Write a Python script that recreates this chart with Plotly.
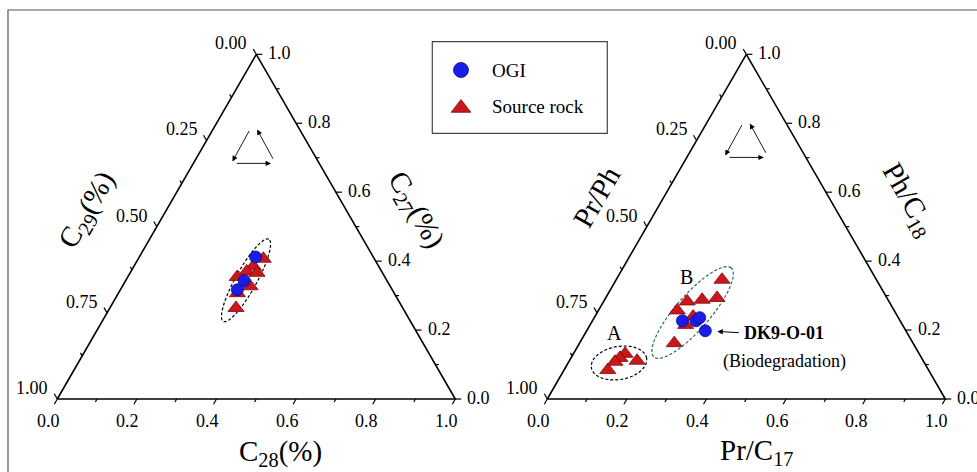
import math
import plotly.graph_objects as go

FONT = "Liberation Serif"
H = math.sqrt(3) / 2          # height of the unit triangle
PX = 398.0                    # pixels per unit on both axes
W, HT = 977, 472              # canvas size
X0_PX, Y0_PX = 57.3, 399.0    # pixel position of the left panel origin

# ---------------- data (ternary fractions) ----------------
# Sterane panel: C27 = top vertex (right axis), C28 = bottom axis, C29 = left axis
ster_ogi_c27 = [0.412, 0.343, 0.317]
ster_ogi_c28 = [0.292, 0.298, 0.294]
ster_ogi_c29 = [0.296, 0.359, 0.389]

ster_src_c27 = [0.407, 0.385, 0.370, 0.366, 0.354, 0.327, 0.307, 0.264]
ster_src_c28 = [0.314, 0.300, 0.291, 0.319, 0.275, 0.321, 0.299, 0.317]
ster_src_c29 = [0.279, 0.315, 0.339, 0.315, 0.371, 0.352, 0.394, 0.419]

# Isoprenoid panel: Ph/C18 = top vertex (right axis), Pr/C17 = bottom axis, Pr/Ph = left axis
iso_ogi_phc18 = [0.227, 0.227, 0.236, 0.198]
iso_ogi_prc17 = [0.226, 0.260, 0.265, 0.298]
iso_ogi_prph = [0.547, 0.513, 0.499, 0.504]

iso_src_phc18 = [0.346, 0.283, 0.288, 0.293, 0.257, 0.239, 0.215, 0.162,
                 0.131, 0.119, 0.108, 0.084, 0.111]
iso_src_prc17 = [0.266, 0.210, 0.245, 0.280, 0.198, 0.247, 0.240, 0.238,
                 0.130, 0.123, 0.116, 0.110, 0.170]
iso_src_prph = [0.388, 0.507, 0.467, 0.427, 0.545, 0.514, 0.545, 0.600,
                0.739, 0.758, 0.776, 0.806, 0.719]

bottom_ticks = [0.0, 0.2, 0.4, 0.6, 0.8, 1.0]
right_ticks = [0.0, 0.2, 0.4, 0.6, 0.8, 1.0]
left_ticks = [0.0, 0.25, 0.5, 0.75, 1.0]
bottom_labels = ["0.0", "0.2", "0.4", "0.6", "0.8", "1.0"]
right_labels = ["0.0", "0.2", "0.4", "0.6", "0.8", "1.0"]
left_labels = ["0.00", "0.25", "0.50", "0.75", "1.00"]

# ---------------- styling ----------------
RED = "#c9171c"
RED_EDGE = "#7d0a0a"
BLUE = "#1c1ce8"
BLUE_EDGE = "#0a0a80"
GREEN = "#2f6a4c"

panels = [
    dict(ox=0.0, top="C<sub>27</sub>(%)", bottom="C<sub>28</sub>(%)", left="C<sub>29</sub>(%)",
         ogi=(ster_ogi_c27, ster_ogi_c28), src=(ster_src_c27, ster_src_c28),
         title_pos=dict(bottom=(0.562, -0.136), left=(0.077, 0.475), right=(0.899, 0.475)),
         glyph=(0.490, 0.637)),
    dict(ox=490.0 / PX, top="Ph/C<sub>18</sub>", bottom="Pr/C<sub>17</sub>", left="Pr/Ph",
         ogi=(iso_ogi_phc18, iso_ogi_prc17), src=(iso_src_phc18, iso_src_prc17),
         title_pos=dict(bottom=(0.526, -0.133), left=(0.123, 0.508), right=(0.907, 0.500)),
         glyph=(0.497, 0.652)),
]


def tern_xy(a_list, b_list, ox):
    """Top-vertex fraction a and bottom-axis fraction b -> cartesian (x, y)."""
    xs = [ox + b + a / 2 for a, b in zip(a_list, b_list)]
    ys = [a * H for a in a_list]
    return xs, ys


def px2data(px, py):
    return (px - X0_PX) / PX, (Y0_PX - py) / PX


fig = go.Figure()
annotations = []
shapes = []

MAJOR = 6.0 / PX
MINOR = 3.5 / PX
TICK_FONT = dict(family=FONT, size=18, color="black")
TITLE_FONT = dict(family=FONT, size=29, color="black")


def ellipse_path(cx, cy, a, b, ang_deg, n=90):
    t = math.radians(ang_deg)
    pts = []
    for i in range(n + 1):
        th = 2 * math.pi * i / n
        u, v = a * math.cos(th), b * math.sin(th)
        pts.append((cx + u * math.cos(t) - v * math.sin(t),
                    cy + u * math.sin(t) + v * math.cos(t)))
    return "M " + " L ".join(f"{x:.5f},{y:.5f}" for x, y in pts) + " Z"


for p in panels:
    ox = p["ox"]
    # frame of the triangle
    fig.add_trace(go.Scatter(x=[ox, ox + 1, ox + 0.5, ox], y=[0, 0, H, 0], mode="lines",
                             line=dict(color="black", width=1.6), hoverinfo="skip",
                             showlegend=False))
    tx, ty = [], []
    # bottom axis: ticks run down-left
    for i in range(11):
        t = i / 10
        L = MAJOR if i % 2 == 0 else MINOR
        x, y = ox + t, 0.0
        tx += [x, x - 0.5 * L, None]
        ty += [y, y - H * L, None]
    # right axis: ticks run to the right
    for i in range(11):
        t = i / 10
        L = MAJOR if i % 2 == 0 else MINOR
        x, y = ox + 1 - t / 2, t * H
        tx += [x, x + L, None]
        ty += [y, y, None]
    # left axis: ticks run up-left
    for i in range(9):
        t = i / 8
        L = MAJOR if i % 2 == 0 else MINOR
        x, y = ox + (1 - t) / 2, (1 - t) * H
        tx += [x, x - 0.5 * L, None]
        ty += [y, y + H * L, None]
    fig.add_trace(go.Scatter(x=tx, y=ty, mode="lines", line=dict(color="black", width=1.2),
                             hoverinfo="skip", showlegend=False))

    for t, lab in zip(bottom_ticks, bottom_labels):
        annotations.append(dict(x=ox + t, y=0, text=lab, showarrow=False, xanchor="center",
                                yanchor="middle", xshift=-9, yshift=-22, font=TICK_FONT))
    for t, lab in zip(right_ticks, right_labels):
        annotations.append(dict(x=ox + 1 - t / 2, y=t * H, text=lab, showarrow=False,
                                xanchor="left", yanchor="middle", xshift=10, yshift=1,
                                font=TICK_FONT))
    for t, lab in zip(left_ticks, left_labels):
        annotations.append(dict(x=ox + (1 - t) / 2, y=(1 - t) * H, text=lab, showarrow=False,
                                xanchor="right", yanchor="middle", xshift=-7, yshift=11,
                                font=TICK_FONT))

    tp = p["title_pos"]
    annotations.append(dict(x=ox + tp["bottom"][0], y=tp["bottom"][1], text=p["bottom"],
                            showarrow=False, font=TITLE_FONT, xanchor="center", yanchor="middle"))
    annotations.append(dict(x=ox + tp["left"][0], y=tp["left"][1], text=p["left"],
                            showarrow=False, font=TITLE_FONT, textangle=-60,
                            xanchor="center", yanchor="middle"))
    annotations.append(dict(x=ox + tp["right"][0], y=tp["right"][1], text=p["top"],
                            showarrow=False, font=TITLE_FONT, textangle=60,
                            xanchor="center", yanchor="middle"))

    # reading-direction glyph
    gx, gy = p["glyph"]
    for (tx0, ty0), (hx, hy) in [((-0.006, 0.040), (-0.050, -0.040)),
                                 ((-0.043, -0.045), (0.047, -0.045)),
                                 ((0.054, -0.037), (0.012, 0.040))]:
        annotations.append(dict(x=ox + gx + hx, y=gy + hy, ax=ox + gx + tx0, ay=gy + ty0,
                                xref="x", yref="y", axref="x", ayref="y", text="",
                                showarrow=True, arrowhead=2, arrowsize=1.2, arrowwidth=0.9,
                                arrowcolor="black"))

    sx, sy = tern_xy(*p["src"], ox)
    fig.add_trace(go.Scatter(x=sx, y=sy, mode="markers", name="Source rock", showlegend=False,
                             marker=dict(symbol="triangle-up", size=14, color=RED,
                                         line=dict(color=RED_EDGE, width=0.8))))
    cx, cy = tern_xy(*p["ogi"], ox)
    fig.add_trace(go.Scatter(x=cx, y=cy, mode="markers", name="OGI", showlegend=False,
                             marker=dict(symbol="circle", size=12, color=BLUE,
                                         line=dict(color=BLUE_EDGE, width=0.8))))

# grouping ellipses
ox_l, ox_r = panels[0]["ox"], panels[1]["ox"]
for cx0, cy0, a, b, ang, col in [
    (ox_l + 0.4742, 0.2982, 0.118, 0.0265, 61, "black"),
    (ox_r + 0.3651, 0.2173, 0.148, 0.0430, 49, GREEN),
    (ox_r + 0.1802, 0.0905, 0.0704, 0.0415, 10, "black"),
]:
    shapes.append(dict(type="path", path=ellipse_path(cx0, cy0, a, b, ang), xref="x", yref="y",
                       line=dict(color=col, width=1.2, dash="3px,2px"), layer="below"))

# group labels
for lab, lx, ly in [("A", 0.170, 0.165), ("B", 0.350, 0.307)]:
    annotations.append(dict(x=ox_r + lx, y=ly, text=lab, showarrow=False,
                            font=dict(family=FONT, size=20, color="black")))

# sample call-out
dkx, dky = tern_xy([iso_ogi_phc18[3]], [iso_ogi_prc17[3]], ox_r)
annotations.append(dict(x=dkx[0], y=dky[0], text="", showarrow=True, arrowhead=2,
                        arrowsize=1.1, arrowwidth=1, arrowcolor="black", standoff=12,
                        ax=35, ay=2))
annotations.append(dict(x=dkx[0], y=dky[0], text="<b>DK9-O-01</b>", showarrow=False,
                        xanchor="left", yanchor="middle", xshift=37, yshift=-2,
                        font=dict(family=FONT, size=18, color="black")))
annotations.append(dict(x=dkx[0], y=dky[0], text="(Biodegradation)", showarrow=False,
                        xanchor="left", yanchor="middle", xshift=16, yshift=-31,
                        font=dict(family=FONT, size=18, color="black")))

# legend box
shapes.append(dict(type="rect", xref="paper", yref="paper", x0=432.3 / W, x1=607.3 / W,
                   y0=1 - 133.3 / HT, y1=1 - 41.7 / HT, line=dict(color="#444", width=1.2),
                   fillcolor="white", layer="below"))
lg1 = px2data(461, 70)
lg2 = px2data(461, 108)
fig.add_trace(go.Scatter(x=[lg1[0]], y=[lg1[1]], mode="markers", showlegend=False,
                         hoverinfo="skip",
                         marker=dict(symbol="circle", size=15, color=BLUE,
                                     line=dict(color=BLUE_EDGE, width=0.8))))
fig.add_trace(go.Scatter(x=[lg2[0]], y=[lg2[1]], mode="markers", showlegend=False,
                         hoverinfo="skip",
                         marker=dict(symbol="triangle-up", size=17, color=RED,
                                     line=dict(color=RED_EDGE, width=0.8))))
for txt, py in [("OGI", 71), ("Source rock", 107)]:
    annotations.append(dict(x=490 / W, y=1 - py / HT, xref="paper", yref="paper", text=txt,
                            showarrow=False, xanchor="left", yanchor="middle",
                            font=dict(family=FONT, size=19, color="black")))

# outer frame
shapes.append(dict(type="rect", xref="paper", yref="paper", x0=8 / W, x1=1.02,
                   y0=-0.02, y1=1 - 10 / HT, line=dict(color="#555", width=1.2)))

fig.update_layout(
    width=W, height=HT, margin=dict(l=0, r=0, t=0, b=0),
    paper_bgcolor="white", plot_bgcolor="white",
    xaxis=dict(range=[-X0_PX / PX, (W - X0_PX) / PX], visible=False, fixedrange=True),
    yaxis=dict(range=[-(HT - Y0_PX) / PX, Y0_PX / PX], visible=False, fixedrange=True),
    annotations=annotations, shapes=shapes, showlegend=False,
)

fig.write_html("out.html")
